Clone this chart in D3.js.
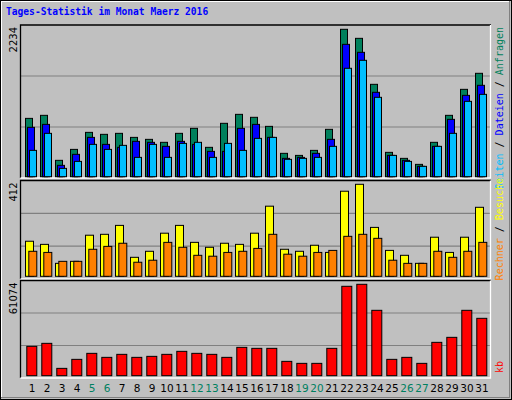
<!DOCTYPE html><html><head><meta charset="utf-8"><script src="https://cdn.jsdelivr.net/npm/d3@7"></script>
<style>body{margin:0;background:#fff}</style></head><body><svg id="c" width="512" height="400"></svg>
<script>
const days=d3.range(1,32);
const weekend=[5,6,12,13,19,20,26,27];
const anfragen=[884,930,248,414,672,642,657,596,566,521,657,733,445,809,945,900,763,354,323,399,718,2234,2097,1400,369,278,187,521,930,1324,1567];
const dateien=[748,793,172,339,596,490,445,536,521,460,536,490,384,384,733,793,596,278,293,354,566,2006,1885,1279,323,248,157,460,869,1233,1385];
const seiten=[399,657,126,232,490,414,475,293,490,293,505,521,293,505,399,581,596,263,278,293,460,1643,1764,1203,323,232,157,460,657,1142,1248];
const besuche=[157,143,58,67,184,188,228,85,112,193,228,152,130,148,143,193,314,121,112,139,107,381,412,219,116,94,58,175,107,175,309];
const rechner=[112,107,67,67,121,134,148,63,72,152,130,94,90,107,112,125,188,99,90,107,116,179,188,170,72,58,58,112,85,112,152];
const kb=[19615,21621,4904,10922,14934,12260,14266,12260,12928,14266,16272,14934,14266,12260,18947,18278,18278,9585,8247,8247,18278,59737,61074,43688,10922,12260,8247,22290,25634,43688,38339];
const maxLabels=["2234","412","61074"];

const svg=d3.select("#c");
svg.append("rect").attr("x",0.5).attr("y",0.5).attr("width",511).attr("height",399).attr("fill","#c0c0c0").attr("stroke","#000");
svg.append("line").attr("x1",1).attr("y1",1.5).attr("x2",510).attr("y2",1.5).attr("stroke","#fff");
svg.append("line").attr("x1",1.5).attr("y1",1).attr("x2",1.5).attr("y2",398).attr("stroke","#fff");
svg.append("line").attr("x1",1).attr("y1",397.5).attr("x2",510).attr("y2",397.5).attr("stroke","#808080");
svg.append("line").attr("x1",509.5).attr("y1",1).attr("x2",509.5).attr("y2",398).attr("stroke","#808080");
svg.append("text").attr("x",6).attr("y",15).text("Tages-Statistik im Monat Maerz 2016")
 .attr("font-family","DejaVu Sans Mono").attr("font-weight","bold").attr("font-size",9.6).attr("fill","#0000ff");

const x=d3.scaleBand().domain(days).range([25,490]).paddingInner(0).paddingOuter(0);

const panels=[
 {top:25,bot:178,base:176.7,ytop:29.3,max:2234,label:maxLabels[0]},
 {top:180.5,bot:279,base:276.3,ytop:184.3,max:412,label:maxLabels[1]},
 {top:280.5,bot:378,base:375.7,ytop:284.3,max:61074,label:maxLabels[2]}
];
panels.forEach(p=>{
 p.y=d3.scaleLinear().domain([0,p.max]).range([p.base,p.ytop]);
 svg.append("rect").attr("x",21).attr("y",p.top).attr("width",469).attr("height",p.bot-p.top).attr("fill","#c0c0c0");
 const h=(p.bot-p.top)/3;
 [1,2].forEach(i=>svg.append("line").attr("x1",21).attr("x2",490).attr("y1",p.top+h*i).attr("y2",p.top+h*i).attr("stroke","#808080").attr("stroke-width",1.2));
 svg.append("path").attr("d",`M20.5,${p.bot}V${p.top}H491`).attr("stroke","#000").attr("fill","none").attr("stroke-width",1.3);
 svg.append("path").attr("d",`M20.5,${p.bot}H490.5V${p.top}`).attr("stroke","#fff").attr("fill","none").attr("stroke-width",1.3);
 svg.append("text").attr("transform",`translate(17,${p.top+2}) rotate(-90)`).attr("text-anchor","end")
  .attr("font-family","DejaVu Sans").attr("font-size",10).attr("fill","#000").text(p.label);
});
function bars(panel,data,off,w,color){
 const p=panels[panel];
 svg.append("g").selectAll("rect").data(data).join("rect")
  .attr("x",(d,i)=>x(days[i])+off+0.5).attr("width",w)
  .attr("y",d=>p.y(d)).attr("height",d=>p.base-p.y(d))
  .attr("fill",color).attr("stroke","#000").attr("stroke-width",1);
}
bars(0,anfragen,0,7,"#00805c");
bars(0,dateien,2,7,"#0000ff");
bars(0,seiten,4,7,"#00bfff");
bars(1,besuche,0,8,"#ffff00");
bars(1,rechner,3.3,8,"#ff8000");
bars(2,kb,1.3,10,"#ff0000");

svg.append("g").selectAll("text").data(days).join("text")
 .attr("x",d=>x(d)+x.bandwidth()/2-0.5).attr("y",392).attr("text-anchor","middle")
 .attr("font-family","DejaVu Sans").attr("font-size",10.5)
 .attr("fill",d=>weekend.includes(d)?"#008060":"#000").text(d=>d);

function rlabel(yEnd,parts){
 const t=svg.append("text").attr("transform",`translate(503,${yEnd}) rotate(-90)`).attr("text-anchor","end")
  .attr("font-family","DejaVu Sans Mono").attr("font-size",10);
 parts.forEach(([s,c])=>t.append("tspan").attr("fill",c).text(s));
}
rlabel(27,[["Seiten","#00bfff"],[" / ","#000"],["Dateien","#0000ff"],[" / ","#000"],["Anfragen","#00805c"]]);
rlabel(178,[["Rechner","#ff8000"],[" / ","#000"],["Besuche","#ffff00"]]);
rlabel(361,[["kb","#ff0000"]]);
</script></body></html>
